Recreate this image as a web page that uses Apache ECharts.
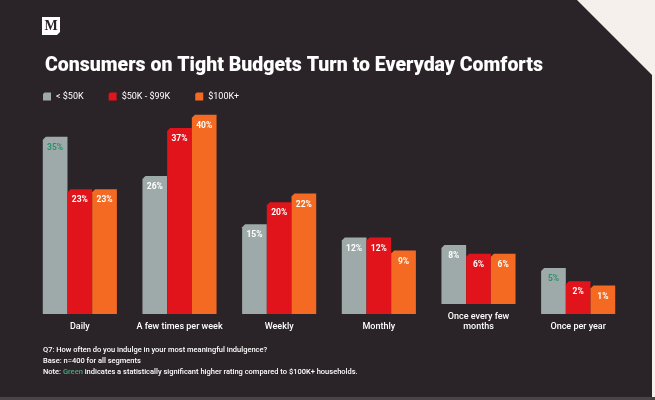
<!DOCTYPE html>
<html>
<head>
<meta charset="utf-8">
<script src="https://cdn.jsdelivr.net/npm/echarts@6/dist/echarts.min.js"></script>
<style>
  html, body { margin: 0; padding: 0; }
  body { width: 655px; height: 400px; background: #f5f0ec; position: relative; overflow: hidden; }
  .panel {
    position: absolute; left: 0; top: 0; width: 652px; height: 397px;
    background: #2a2327;
    clip-path: polygon(0 0, 577px 0, 652px 75px, 652px 397px, 0 397px);
  }
  .foot { position: absolute; left: 0; top: 397px; width: 655px; height: 3px; background: #4a4447; }
  #chart { position: absolute; left: 0; top: 0; width: 655px; height: 400px; }
</style>
</head>
<body>
<div class="panel"></div>
<div class="foot"></div>
<div id="chart"></div>
<script>
// 数据
const categories = ['Daily', 'A few times per week', 'Weekly', 'Monthly', 'Once every few\nmonths', 'Once per year'];
const seriesNames = ['< $50K', '$50K - $99K', '$100K+'];
const under50 = [35, 26, 15, 12, 8, 5];
const mid50to99 = [23, 37, 20, 12, 6, 2];
const over100 = [23, 40, 22, 9, 6, 1];
// 显著高于 $100K+ 的项（绿色标签）
const significant = [true, false, false, false, false, true];

const colors = ['#9eaaa9', '#e1141b', '#f46a22'];
const yMin = -5.5;
const barW = 24.7;
const chamfer = 3;
const font = 'Roboto, "Liberation Sans", sans-serif';

const chart = echarts.init(document.getElementById('chart'), null, { renderer: 'canvas' });

// 斜角柱子
function makeRender(k, values) {
    return function (params, api) {
        const idx = api.value(0);
        const val = api.value(1);
        const lift = categories[idx].indexOf('\n') >= 0 ? 10 : 0; // 两行标签的组抬高
        const top = api.coord([idx, val]);
        const base = api.coord([idx, yMin]);
        const x0 = top[0] - 1.5 * barW + k * barW;
        const x1 = x0 + barW;
        const yt = top[1] - lift;
        const yb = base[1] - lift;
        const green = k === 0 && significant[idx];
        return {
            type: 'group',
            children: [
                {
                    type: 'polygon',
                    shape: { points: [[x0, yb], [x0, yt + chamfer], [x0 + chamfer, yt], [x1, yt], [x1, yb]] },
                    style: { fill: colors[k] }
                },
                {
                    type: 'text',
                    style: {
                        text: values[idx] + '%',
                        x: (x0 + x1) / 2,
                        y: yt + 11,
                        align: 'center',
                        verticalAlign: 'middle',
                        fill: green ? '#2f8f6a' : '#ffffff',
                        font: 'bold 8.5px ' + font
                    }
                }
            ]
        };
    };
}

const allValues = [under50, mid50to99, over100];

const option = {
    animation: false,
    title: {
        text: 'Consumers on Tight Budgets Turn to Everyday Comforts',
        left: 45,
        top: 56,
        padding: 0,
        textStyle: { color: '#ffffff', fontSize: 19.5, fontWeight: 900, fontFamily: font }
    },
    legend: {
        left: 43,
        top: 92,
        padding: 0,
        itemWidth: 8,
        itemHeight: 10,
        itemGap: 25,
        icon: 'path://M2,0 L10,0 L10,10 L0,10 L0,2 Z',
        textStyle: { color: '#ffffff', fontSize: 9, fontFamily: font, padding: [0, 0, 0, 0] },
        data: seriesNames
    },
    grid: { left: 30, right: 27, top: 114.8, bottom: 86 },
    xAxis: {
        type: 'category',
        data: categories,
        axisLine: { show: false },
        axisTick: { show: false },
        axisLabel: {
            color: '#ffffff',
            fontSize: 9,
            fontWeight: 500,
            fontFamily: font,
            lineHeight: 10.5,
            verticalAlign: 'bottom',
            margin: 18,
            interval: 0
        }
    },
    yAxis: { type: 'value', min: yMin, max: 40, show: false },
    series: allValues.map((vals, k) => ({
        name: seriesNames[k],
        type: 'custom',
        itemStyle: { color: colors[k] },
        renderItem: makeRender(k, vals),
        encode: { x: 0, y: 1 },
        data: vals.map((v, i) => [i, v])
    })),
    graphic: [
        {
            type: 'group',
            left: 42,
            top: 17,
            children: [
                { type: 'polygon', shape: { points: [[0, 0], [18, 0], [18, 15], [15, 18], [0, 18]] }, style: { fill: '#ffffff' } },
                { type: 'text', style: { text: 'M', x: 9, y: 9.5, align: 'center', verticalAlign: 'middle', fill: '#2a2327', font: 'bold 14px "Liberation Serif", serif' } }
            ]
        },
        {
            type: 'text',
            left: 43,
            top: 345,
            style: {
                text: 'Q7: How often do you indulge in your most meaningful indulgence?\nBase: n=400 for all segments\n{t|Note: }{g|Green}{t| indicates a statistically significant higher rating compared to $100K+ households.}',
                fill: '#ffffff',
                font: '500 7.5px ' + font,
                lineHeight: 11,
                rich: {
                    t: { fill: '#ffffff', fontSize: 7.5, fontWeight: 500, fontFamily: font, lineHeight: 11 },
                    g: { fill: '#3fae84', fontSize: 7.5, fontWeight: 500, fontFamily: font, lineHeight: 11 }
                }
            }
        }
    ]
};

chart.setOption(option);
window.addEventListener('resize', () => chart.resize());
</script>
</body>
</html>
